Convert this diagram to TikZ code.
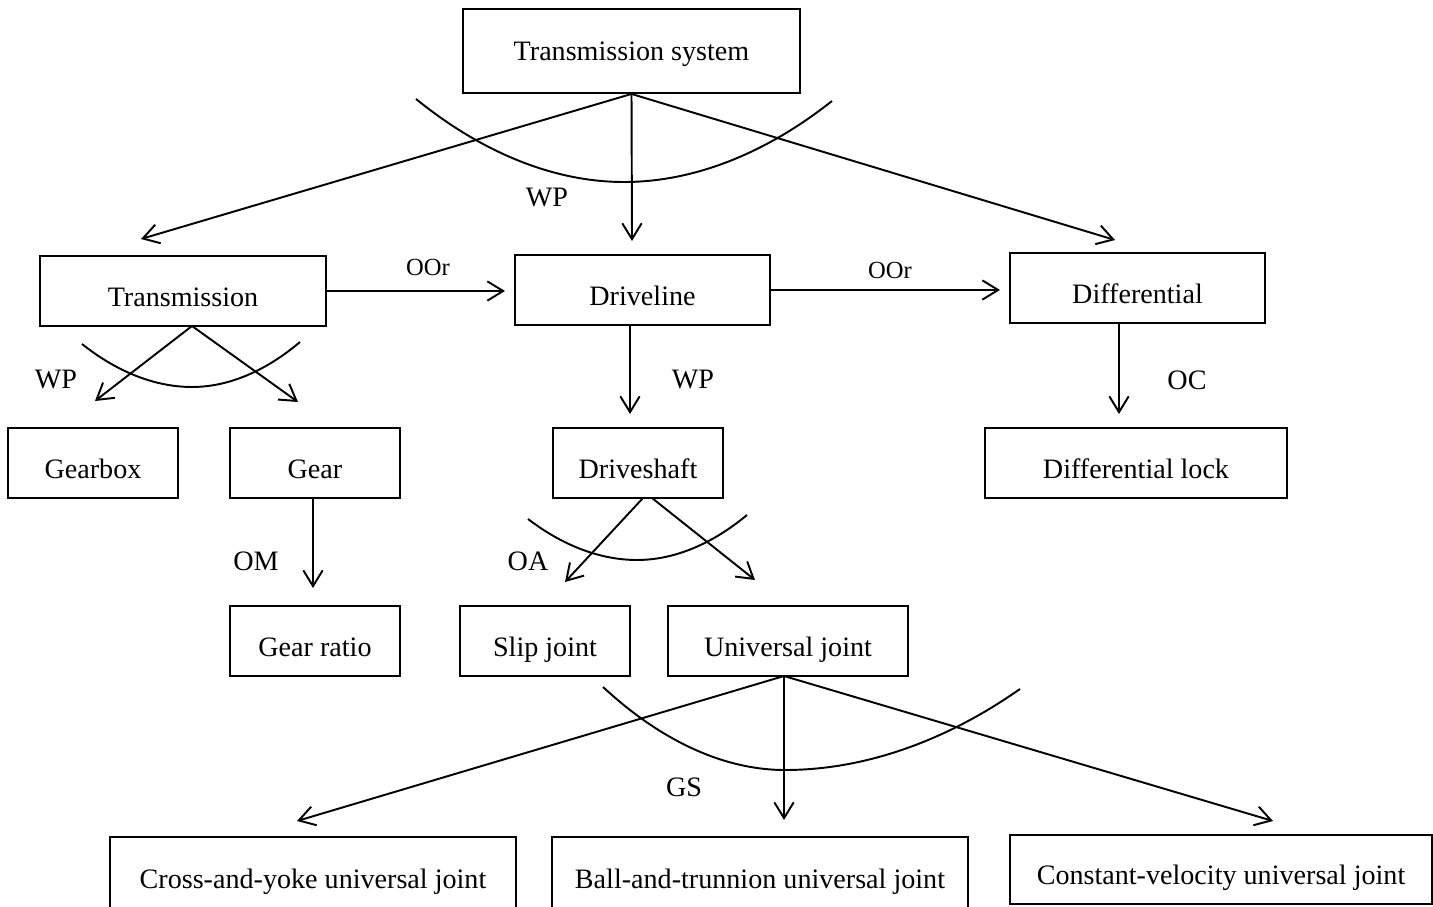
\documentclass[tikz,border=0pt]{standalone}
\usepackage{fontspec}
\setmainfont{Liberation Serif}
\usetikzlibrary{arrows.meta,calc}
\begin{document}
\begin{tikzpicture}[x=0.02cm,y=-0.02cm,
  box/.style={draw,line width=1.1pt,rectangle,inner sep=0pt,minimum height=1.4cm,
              text height=17.4pt,text depth=0pt,
              font=\fontsize{16}{19}\selectfont},
  arr/.style={line width=1.1pt,-{Straight Barb[length=9pt,width=11pt,line width=1.1pt]}},
  sweep/.style={line width=1.1pt},
  rel/.style={font=\fontsize{16}{19}\selectfont},
  relsm/.style={font=\fontsize{14}{17}\selectfont}]
\useasboundingbox (0,0) rectangle (1433,906);

% boxes
\node[box,minimum width=6.74cm,minimum height=1.68cm,text height=10.6pt] (tsys) at (631.5,51) {Transmission system};
\node[box,minimum width=5.72cm] (trans) at (183,291) {Transmission};
\node[box,minimum width=5.1cm] (drive) at (642.5,290) {Driveline};
\node[box,minimum width=5.1cm] (diff) at (1137.5,288) {Differential};
\node[box,minimum width=3.4cm] (gearbox) at (93,463) {Gearbox};
\node[box,minimum width=3.4cm] (gear) at (315,463) {Gear};
\node[box,minimum width=3.4cm] (dshaft) at (638,463) {Driveshaft};
\node[box,minimum width=6.04cm] (dlock) at (1136,463) {Differential lock};
\node[box,minimum width=3.4cm] (gratio) at (315,641) {Gear ratio};
\node[box,minimum width=3.4cm] (slip) at (545,641) {Slip joint};
\node[box,minimum width=4.8cm] (ujoint) at (788,641) {Universal joint};
\node[box,minimum width=8.12cm,minimum height=1.46cm] (cross) at (313,873.5) {Cross-and-yoke universal joint};
\node[box,minimum width=8.32cm,minimum height=1.46cm] (ball) at (760,873.5) {Ball-and-trunnion universal joint};
\node[box,minimum width=8.44cm,minimum height=1.38cm] (cvj) at (1221,869.5) {Constant-velocity universal joint};

% arrow tips and offset starts
\coordinate (t1) at (141,239);
\coordinate (t2) at (632,241);
\coordinate (t3) at (1115,240);
\coordinate (t4) at (95,401);
\coordinate (t5) at (298,402);
\coordinate (t6) at (505,291);
\coordinate (t7) at (1000,290);
\coordinate (s8) at (630,325);
\coordinate (t8) at (630,414);
\coordinate (s9) at (1119,323);
\coordinate (t9) at (1119,414);
\coordinate (s10) at (313,498);
\coordinate (t10) at (313,588);
\coordinate (s11) at (643,498);
\coordinate (t11) at (565,582);
\coordinate (s12) at (652,498);
\coordinate (t12) at (755,580);
\coordinate (s13) at (784,676);
\coordinate (t13) at (297,821);
\coordinate (t14) at (784,820);
\coordinate (t15) at (1273,821);
\coordinate (s16) at (192,326);

% connectors
\draw[arr] (tsys.south) -- (t1);
\draw[arr] (tsys.south) -- (t2);
\draw[arr] (tsys.south) -- (t3);
\draw[arr] (s16) -- (t4);
\draw[arr] (s16) -- (t5);
\draw[arr] (trans.east) -- (t6);
\draw[arr] (drive.east) -- (t7);
\draw[arr] (s8) -- (t8);
\draw[arr] (s9) -- (t9);
\draw[arr] (s10) -- (t10);
\draw[arr] (s11) -- (t11);
\draw[arr] (s12) -- (t12);
\draw[arr] (s13) -- (t13);
\draw[arr] (s13) -- (t14);
\draw[arr] (s13) -- (t15);

% grouping sweeps
\draw[sweep] (416,99) parabola bend (624,182) (832,101);
\draw[sweep] (82,344) parabola bend (192,387) (300,342);
\draw[sweep] (528,519) parabola bend (637,560) (747,515);
\draw[sweep] (603,687) parabola bend (785,770) (1020,689);

% relation labels
\node[rel] (l1) at (547,198) {WP};
\node[rel] (l2) at (56,380) {WP};
\node[relsm] (l3) at (428,267) {OOr};
\node[relsm] (l4) at (890,270) {OOr};
\node[rel] (l5) at (693,380) {WP};
\node[rel] (l6) at (1187,380) {OC};
\node[rel] (l7) at (256,561) {OM};
\node[rel] (l8) at (528,561) {OA};
\node[rel] (l9) at (684,787) {GS};
\end{tikzpicture}
\end{document}
